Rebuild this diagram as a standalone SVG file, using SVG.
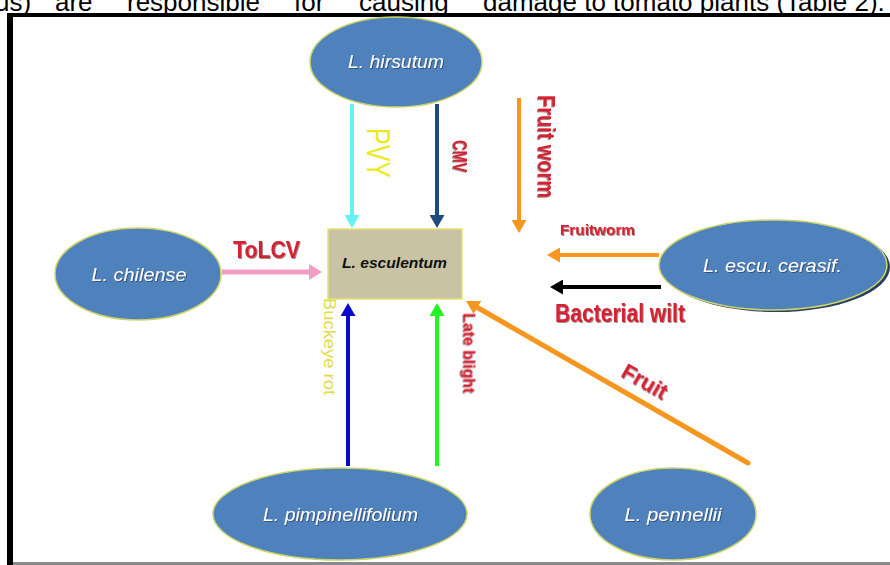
<svg xmlns="http://www.w3.org/2000/svg" width="890" height="565" viewBox="0 0 890 565">
<style>
.node{fill:#4F81BD;stroke:#CAD46A;stroke-width:1.5}
.nt{font-family:"Liberation Sans",Arial,sans-serif;font-style:italic;fill:#FFFFFF;font-size:18px;text-anchor:middle}
.lbl{font-family:"Liberation Sans",Arial,sans-serif;font-weight:bold;fill:#D42030}
.top{font-family:"Liberation Sans",Arial,sans-serif;font-size:26px;fill:#000}
.c{fill:none}
</style>
<defs>
<filter id="sh" x="-10%" y="-30%" width="120%" height="160%">
<feDropShadow dx="1" dy="1" stdDeviation="0.6" flood-color="#203050" flood-opacity="0.6"/>
</filter>
<filter id="shr" x="-10%" y="-30%" width="120%" height="160%">
<feDropShadow dx="1" dy="1" stdDeviation="0.5" flood-color="#401010" flood-opacity="0.5"/>
</filter>
<marker id="aCyan" viewBox="0 0 13 15" refX="1" refY="7.5" markerWidth="13" markerHeight="15" markerUnits="userSpaceOnUse" orient="auto"><path d="M0,0 L13,7.5 L0,15 Z" fill="#66F0F8"/></marker>
<marker id="aNavy" viewBox="0 0 13 15" refX="1" refY="7.5" markerWidth="13" markerHeight="15" markerUnits="userSpaceOnUse" orient="auto"><path d="M0,0 L13,7.5 L0,15 Z" fill="#1F4A7C"/></marker>
<marker id="aOrange" viewBox="0 0 13 15" refX="1" refY="7.5" markerWidth="13" markerHeight="15" markerUnits="userSpaceOnUse" orient="auto"><path d="M0,0 L13,7.5 L0,15 Z" fill="#F7961E"/></marker>
<marker id="aPink" viewBox="0 0 13 16" refX="1" refY="8" markerWidth="13" markerHeight="16" markerUnits="userSpaceOnUse" orient="auto"><path d="M0,0 L13,8 L0,16 Z" fill="#F39BC0"/></marker>
<marker id="aBlue" viewBox="0 0 13 15" refX="1" refY="7.5" markerWidth="13" markerHeight="15" markerUnits="userSpaceOnUse" orient="auto"><path d="M0,0 L13,7.5 L0,15 Z" fill="#0A0ACF"/></marker>
<marker id="aGreen" viewBox="0 0 13 15" refX="1" refY="7.5" markerWidth="13" markerHeight="15" markerUnits="userSpaceOnUse" orient="auto"><path d="M0,0 L13,7.5 L0,15 Z" fill="#22F522"/></marker>
<marker id="aBlack" viewBox="0 0 13 15" refX="1" refY="7.5" markerWidth="13" markerHeight="15" markerUnits="userSpaceOnUse" orient="auto"><path d="M0,0 L13,7.5 L0,15 Z" fill="#000000"/></marker>
</defs>
<rect x="0" y="0" width="890" height="565" fill="#FFFFFF"/>
<g id="caption">
<text class="top" x="-5" y="11">us)</text>
<text class="top" x="55" y="11">are</text>
<text class="top" x="127" y="11">responsible</text>
<text class="top" x="294" y="11">for</text>
<text class="top" x="359" y="11">causing</text>
<text class="top" x="483" y="11">damage to tomato plants (Table 2).</text>
</g>
<g id="frame">
<rect x="7" y="13" width="883" height="4" fill="#000"/>
<rect x="7" y="13" width="6" height="552" fill="#000"/>
<rect x="13" y="562" width="877" height="3" fill="#8A8A8A"/>
</g>
<g id="connectors">
<line class="c" x1="352" y1="104" x2="352" y2="216" stroke="#66F0F8" stroke-width="4" marker-end="url(#aCyan)"/>
<line class="c" x1="437" y1="104" x2="437" y2="216" stroke="#1F4A7C" stroke-width="4" marker-end="url(#aNavy)"/>
<line class="c" x1="519" y1="98" x2="519" y2="221" stroke="#F7961E" stroke-width="4" marker-end="url(#aOrange)"/>
<line class="c" x1="222" y1="272" x2="310" y2="272" stroke="#F39BC0" stroke-width="5" marker-end="url(#aPink)"/>
<line class="c" x1="659" y1="255" x2="559" y2="255" stroke="#F7961E" stroke-width="4" marker-end="url(#aOrange)"/>
<line class="c" x1="661" y1="287" x2="562" y2="287" stroke="#000000" stroke-width="4" marker-end="url(#aBlack)"/>
<line class="c" x1="348" y1="466" x2="348" y2="315" stroke="#0A0ACF" stroke-width="4" marker-end="url(#aBlue)"/>
<line class="c" x1="437" y1="466" x2="437" y2="315" stroke="#22F522" stroke-width="4" marker-end="url(#aGreen)"/>
<line class="c" x1="748" y1="463" x2="476.5" y2="307" stroke="#F7961E" stroke-width="5" stroke-linecap="round" marker-end="url(#aOrange)"/>
</g>
<g id="labels">
<text x="367" y="128" transform="rotate(90 367 128)" font-family="Liberation Sans, Arial, sans-serif" font-size="34" fill="#EAEA1E" textLength="50" lengthAdjust="spacingAndGlyphs">PVY</text>
<text class="lbl" x="453" y="140" transform="rotate(90 453 140)" font-size="21" textLength="32" lengthAdjust="spacingAndGlyphs" filter="url(#shr)">CMV</text>
<text class="lbl" x="538" y="95" transform="rotate(90 538 95)" font-size="24" textLength="103" lengthAdjust="spacingAndGlyphs" filter="url(#shr)">Fruit worm</text>
<text class="lbl" x="233" y="258" font-size="23" textLength="67" lengthAdjust="spacingAndGlyphs" filter="url(#shr)">ToLCV</text>
<text class="lbl" x="560" y="235" font-size="15" textLength="75" lengthAdjust="spacingAndGlyphs" filter="url(#shr)">Fruitworm</text>
<text class="lbl" x="555" y="322" font-size="25" textLength="130" lengthAdjust="spacingAndGlyphs" filter="url(#shr)">Bacterial wilt</text>
<text x="323.5" y="298" transform="rotate(90 323.5 298)" font-family="Liberation Sans, Arial, sans-serif" font-size="16" fill="#E2DC48" textLength="97" lengthAdjust="spacingAndGlyphs">Buckeye rot</text>
<text class="lbl" x="463.5" y="313" transform="rotate(90 463.5 313)" font-size="17" fill="#E8202C" textLength="80" lengthAdjust="spacingAndGlyphs" filter="url(#shr)">Late blight</text>
<text class="lbl" x="0" y="8" transform="translate(645 381) rotate(29.7)" font-size="22" text-anchor="middle" filter="url(#shr)">Fruit</text>
</g>
<g id="n-hirsutum">
<ellipse class="node" cx="396" cy="62" rx="86" ry="45"/>
<text class="nt" x="396" y="68" textLength="96" lengthAdjust="spacingAndGlyphs" filter="url(#sh)">L. hirsutum</text>
</g>
<g id="n-chilense">
<ellipse class="node" cx="138" cy="274" rx="83" ry="46"/>
<text class="nt" x="139" y="281" textLength="95" lengthAdjust="spacingAndGlyphs" filter="url(#sh)">L. chilense</text>
</g>
<g id="n-esculentum">
<rect x="328" y="229" width="134" height="70" fill="#C8C4A3" stroke="#E6E07A" stroke-width="1.5"/>
<text x="394.5" y="268" font-family="Liberation Sans, Arial, sans-serif" font-style="italic" font-weight="bold" font-size="15.5" fill="#111" text-anchor="middle" textLength="105" lengthAdjust="spacingAndGlyphs">L. esculentum</text>
</g>
<g id="n-cerasif">
<ellipse cx="776" cy="267" rx="114" ry="45" fill="#2B3F60"/>
<ellipse class="node" cx="773" cy="265" rx="114" ry="45"/>
<text class="nt" x="772.5" y="272" textLength="139" lengthAdjust="spacingAndGlyphs" filter="url(#sh)">L. escu. cerasif.</text>
</g>
<g id="n-pimpinellifolium">
<ellipse class="node" cx="340" cy="514" rx="127" ry="46"/>
<text class="nt" x="340.5" y="521" textLength="155" lengthAdjust="spacingAndGlyphs" filter="url(#sh)">L. pimpinellifolium</text>
</g>
<g id="n-pennellii">
<ellipse class="node" cx="673" cy="514" rx="83" ry="46"/>
<text class="nt" x="673" y="521" textLength="97" lengthAdjust="spacingAndGlyphs" filter="url(#sh)">L. pennellii</text>
</g>
</svg>
